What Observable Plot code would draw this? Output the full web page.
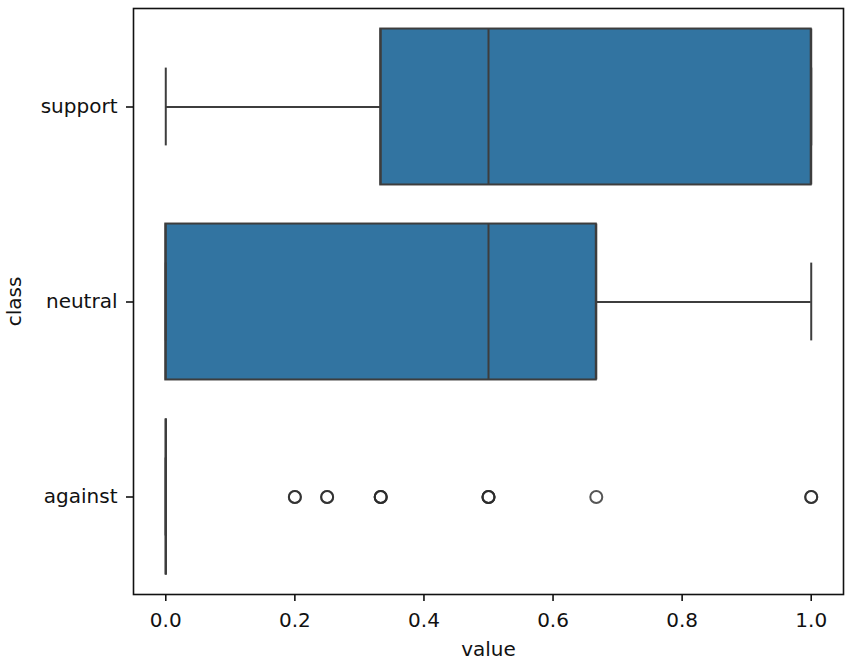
<!DOCTYPE html>
<html><head><meta charset="utf-8">
<script src="https://cdn.jsdelivr.net/npm/d3@7"></script>
<script src="https://cdn.jsdelivr.net/npm/@observablehq/plot@0.6"></script>
<style>body{margin:0;background:#fff;} #chart svg{display:block;}</style>
</head><body><div id="chart"></div>
<script>
// Box statistics per class
const classes = ["support", "neutral", "against"];
const whiskerLow = [0, 0, 0];
const q1 = [0.333, 0, 0];
const median = [0.5, 0.5, 0];
const q3 = [1.0, 0.667, 0];
const whiskerHigh = [1.0, 1.0, 0];
// Outliers of "against" (repeated values overlap, as in the picture)
const outlierValues = [0.2, 0.2, 0.25, 0.25, 0.333, 0.333, 0.333, 0.5, 0.5, 0.5, 0.667, 1.0, 1.0];
const outlierClass = outlierValues.map(() => "against");
const xTicks = [0, 0.2, 0.4, 0.6, 0.8, 1.0];

const boxes = classes.map((c, i) => ({
  cls: c, lo: whiskerLow[i], q1: q1[i], med: median[i], q3: q3[i], hi: whiskerHigh[i]
}));
const outliers = outlierValues.map((v, i) => ({cls: outlierClass[i], v}));

const W = 851, H = 662;
const mTop = 8, mBottom = 68, mLeft = 133, mRight = 8;
const band = (H - mTop - mBottom) / classes.length;
const boxInset = band * 0.1;
const capInset = band * 0.3;
const fill = "#3274a1";
const line = "#3d3d3d";
const lw = 2;

const plot = Plot.plot({
  width: W, height: H,
  marginTop: mTop, marginBottom: mBottom, marginLeft: mLeft, marginRight: mRight,
  style: {fontFamily: "DejaVu Sans", fontSize: "20px", color: "#111", background: "#fff"},
  x: {domain: [-0.05, 1.05]},
  y: {domain: classes, padding: 0},
  marks: [
    // whiskers
    Plot.ruleY(boxes, {y: "cls", x1: "lo", x2: "q1", stroke: line, strokeWidth: lw}),
    Plot.ruleY(boxes, {y: "cls", x1: "q3", x2: "hi", stroke: line, strokeWidth: lw}),
    // boxes
    Plot.barX(boxes, {y: "cls", x1: "q1", x2: "q3", fill, stroke: line, strokeWidth: lw, insetTop: boxInset, insetBottom: boxInset}),
    Plot.tickX(boxes, {y: "cls", x: "q1", stroke: line, strokeWidth: lw, insetTop: boxInset, insetBottom: boxInset}),
    Plot.tickX(boxes, {y: "cls", x: "q3", stroke: line, strokeWidth: lw, insetTop: boxInset, insetBottom: boxInset}),
    // median
    Plot.tickX(boxes, {y: "cls", x: "med", stroke: line, strokeWidth: lw, insetTop: boxInset, insetBottom: boxInset}),
    // caps
    Plot.tickX(boxes, {y: "cls", x: "lo", stroke: line, strokeWidth: lw, insetTop: capInset, insetBottom: capInset}),
    Plot.tickX(boxes, {y: "cls", x: "hi", stroke: line, strokeWidth: lw, insetTop: capInset, insetBottom: capInset}),
    // outliers
    Plot.dot(outliers, {x: "v", y: "cls", r: 6, fill: "none", stroke: "#2a2a2a", strokeWidth: 2, strokeOpacity: 0.8}),
    Plot.frame({stroke: "#111", strokeWidth: 1.6}),
    Plot.axisX({ticks: xTicks, tickFormat: d3.format(".1f"), tickSize: 7, tickPadding: 11, strokeWidth: 1.6, stroke: "#111",
      label: "value", labelAnchor: "center", labelArrow: "none", labelOffset: 61}),
    Plot.axisY({tickSize: 7, tickPadding: 9, strokeWidth: 1.6, stroke: "#111",
      label: "class", labelAnchor: "center", labelArrow: "none", labelOffset: 127})
  ]
});
document.getElementById("chart").appendChild(plot);
</script>
</body></html>
